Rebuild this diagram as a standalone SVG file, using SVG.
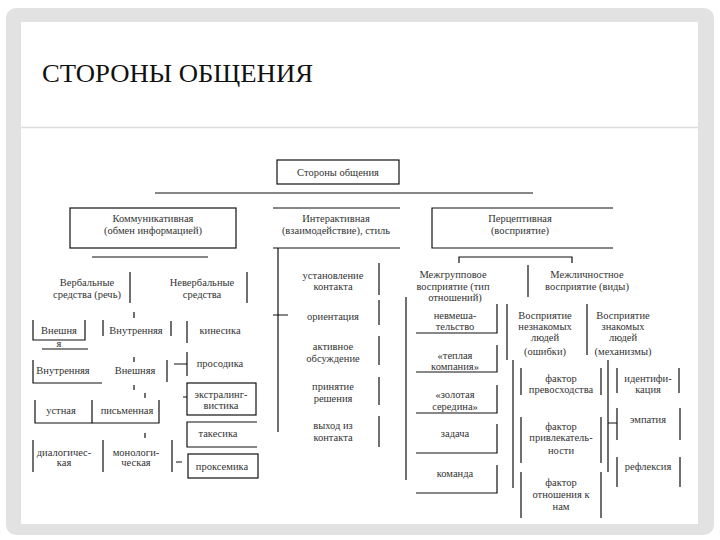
<svg xmlns="http://www.w3.org/2000/svg" width="720" height="540" viewBox="0 0 720 540" font-family="'Liberation Serif', 'Times New Roman', serif">
<style>
.t{font-size:10.5px;fill:#333;text-anchor:middle}
.ttl{font-size:26px;fill:#111}
.l{stroke:#111;stroke-width:1.2;fill:none}
</style>
<rect x="0" y="0" width="720" height="540" fill="#fff"/>
<rect x="6" y="8" width="708" height="527" rx="10" fill="#e2e2e2"/>
<rect x="21" y="22" width="677" height="502" fill="#fff"/>
<line x1="21" y1="127.5" x2="698" y2="127.5" stroke="#dcdcdc" stroke-width="1.5"/>
<text class="ttl" x="42" y="82" font-family="Liberation Serif" textLength="271" lengthAdjust="spacingAndGlyphs">СТОРОНЫ ОБЩЕНИЯ</text>

<g id="connectors" class="l">
<path d="M155 193H533"/>
<path d="M92 257H208"/>
<path d="M459 263V257H572V263"/>
<path d="M130 272V303M247 272V303"/>
<path d="M134 312V318M134 357V362M134 385V390M145 393V398M145 433V438"/>
<path d="M42 349H88"/>
<path d="M174 364H187M183 397H187M176 462H182"/>
<path d="M278 248V432M273 315H288"/>
<path d="M528 265V297"/>
<path d="M406 297V480"/>
<path d="M513 360V488"/>
<path d="M608 360V472M608 423H617"/>
</g>

<g id="root"><rect class="l" x="277" y="160" width="122" height="24"/><text class="t" x="338" y="175.5">Стороны общения</text></g>

<g id="komm"><rect class="l" x="70" y="208" width="166" height="40"/><text class="t" x="153" y="221.5">Коммуникативная</text><text class="t" x="153" y="233.5">(обмен информацией)</text></g>
<g id="inter"><path class="l" d="M273 208H400M273 248H400"/><text class="t" x="336" y="221.5">Интерактивная</text><text class="t" x="336" y="233.5">(взаимодействие), стиль</text></g>
<g id="perc"><path class="l" d="M613 208H432V248H613"/><text class="t" x="520" y="221.5">Перцептивная</text><text class="t" x="520" y="233.5">(восприятие)</text></g>

<g id="verb"><text class="t" x="87" y="285.5">Вербальные</text><text class="t" x="87" y="297.5">средства (речь)</text></g>
<g id="neverb"><text class="t" x="202" y="285.5">Невербальные</text><text class="t" x="202" y="297.5">средства</text></g>

<g id="vnesh1"><path class="l" d="M33 320V340H85V320"/><text class="t" x="59" y="333.5">Внешня</text><text class="t" x="59" y="347">я</text></g>
<g id="vnutr1"><path class="l" d="M103 320V336M171 321V336"/><text class="t" x="136" y="333.5">Внутренняя</text></g>
<g id="kines"><path class="l" d="M187 321V343"/><text class="t" x="220" y="333.5">кинесика</text></g>
<g id="vnutr2"><path class="l" d="M33 360V383H102"/><text class="t" x="63" y="373.5">Внутренняя</text></g>
<g id="vnesh2"><path class="l" d="M167 360V382"/><text class="t" x="135" y="373.5">Внешняя</text></g>
<g id="prosod"><path class="l" d="M187 352V376"/><text class="t" x="220" y="366.5">просодика</text></g>
<g id="extra"><rect class="l" x="187" y="383" width="69" height="32"/><text class="t" x="221" y="397.5">экстралинг-</text><text class="t" x="221" y="408.5">вистика</text></g>
<g id="ustn"><path class="l" d="M35 400V423H92V400"/><text class="t" x="61" y="413.5">устная</text></g>
<g id="pism"><path class="l" d="M92 423H159V400"/><text class="t" x="127" y="413.5">письменная</text></g>
<g id="takes"><path class="l" d="M257 422H187V447H257"/><text class="t" x="218" y="436.5">такесика</text></g>
<g id="dialog"><path class="l" d="M33 440V472"/><text class="t" x="64" y="455.5">диалогичес-</text><text class="t" x="64" y="465.5">кая</text></g>
<g id="monolog"><path class="l" d="M103 440V472M172 440V472"/><text class="t" x="136" y="455.5">монологи-</text><text class="t" x="136" y="465.5">ческая</text></g>
<g id="proks"><rect class="l" x="188" y="454" width="70" height="24"/><text class="t" x="222" y="469.5">проксемика</text></g>

<g id="ustanov"><path class="l" d="M379 263V295"/><text class="t" x="333" y="278.5">установление</text><text class="t" x="333" y="289.5">контакта</text></g>
<g id="orient"><path class="l" d="M379 300V325"/><text class="t" x="333" y="319.5">ориентация</text></g>
<g id="aktiv"><path class="l" d="M379 336V365"/><text class="t" x="333" y="349.5">активное</text><text class="t" x="333" y="361.5">обсуждение</text></g>
<g id="prinyat"><path class="l" d="M379 377V405"/><text class="t" x="333" y="389.5">принятие</text><text class="t" x="333" y="401.5">решения</text></g>
<g id="vyhod"><path class="l" d="M379 416V447"/><text class="t" x="333" y="428.5">выход из</text><text class="t" x="333" y="440.5">контакта</text></g>

<g id="mezhgr"><text class="t" x="453" y="277.5">Межгрупповое</text><text class="t" x="453" y="289.5">восприятие (тип</text><text class="t" x="455" y="300.5">отношений)</text></g>
<g id="mezhl"><text class="t" x="587" y="277.5">Межличностное</text><text class="t" x="587" y="289.5">восприятие (виды)</text></g>

<g id="nevmesh"><path class="l" d="M416 333H497V304"/><text class="t" x="455" y="318.5">невмеша-</text><text class="t" x="455" y="329.5">тельство</text></g>
<g id="teplaya"><path class="l" d="M416 372H497V345"/><text class="t" x="455" y="358.5">«теплая</text><text class="t" x="455" y="369.5">компания»</text></g>
<g id="zolotaya"><path class="l" d="M416 413H497V385"/><text class="t" x="455" y="397.5">«золотая</text><text class="t" x="455" y="409.5">середина»</text></g>
<g id="zadacha"><path class="l" d="M416 453H497V424"/><text class="t" x="455" y="436.5">задача</text></g>
<g id="komanda"><path class="l" d="M416 493H497V465"/><text class="t" x="455" y="476.5">команда</text></g>

<g id="neznak"><path class="l" d="M507 304V360M587 304V355"/><text class="t" x="545" y="318.5">Восприятие</text><text class="t" x="545" y="329.5">незнакомых</text><text class="t" x="545" y="340.5">людей</text><text class="t" x="545" y="354.5">(ошибки)</text></g>
<g id="znak"><text class="t" x="623" y="318.5">Восприятие</text><text class="t" x="623" y="329.5">знакомых</text><text class="t" x="623" y="340.5">людей</text><text class="t" x="623" y="354.5">(механизмы)</text></g>

<g id="fprevos"><path class="l" d="M521 368V395M601 368V395"/><text class="t" x="561" y="381.5">фактор</text><text class="t" x="561" y="392.5">превосходства</text></g>
<g id="fprivl"><path class="l" d="M521 417V463M601 417V463"/><text class="t" x="561" y="429.5">фактор</text><text class="t" x="561" y="440.5">привлекатель-</text><text class="t" x="561" y="453.5">ности</text></g>
<g id="fotnosh"><path class="l" d="M521 472V518M601 472V518"/><text class="t" x="561" y="485.5">фактор</text><text class="t" x="561" y="497.5">отношения к</text><text class="t" x="561" y="509.5">нам</text></g>

<g id="ident"><path class="l" d="M617 368V393M679 368V393"/><text class="t" x="648" y="381.5">идентифи-</text><text class="t" x="648" y="392.5">кация</text></g>
<g id="empat"><path class="l" d="M617 408V440M680 408V440"/><text class="t" x="648" y="422.5">эмпатия</text></g>
<g id="reflex"><path class="l" d="M617 457V487M680 457V487"/><text class="t" x="648" y="469.5">рефлексия</text></g>
</svg>
